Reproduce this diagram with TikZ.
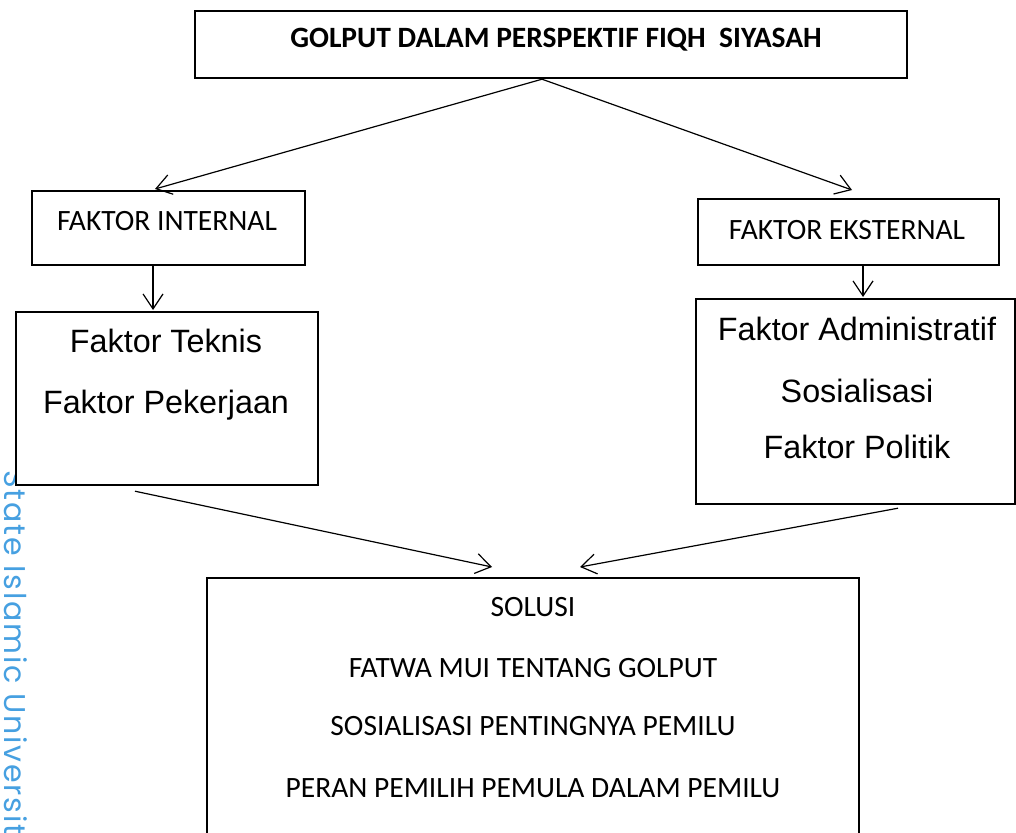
\documentclass[tikz,border=0pt]{standalone}
\usepackage{fontspec}
\setmainfont{Carlito}
\newfontfamily\arialf{Liberation Sans}
\newfontfamily\wmfont[LetterSpace=6]{Poppins}
\usetikzlibrary{arrows.meta,calc}
\definecolor{wmblue}{RGB}{70,160,225}
\begin{document}
\begin{tikzpicture}[x=1pt,y=-1pt,
 box/.style={draw,line width=2.2pt,fill=white,inner sep=0pt,anchor=north west},
 conn/.style={line width=1.2pt,-{Straight Barb[length=15pt,width=20pt,line width=1.2pt]}},
 cal/.style={font=\fontsize{29.5}{33}\selectfont,anchor=base,inner sep=0pt},
 calb/.style={font=\bfseries\fontsize{29.5}{33}\selectfont,anchor=base,inner sep=0pt},
 ari/.style={font=\arialf\fontsize{32.3}{36}\selectfont,anchor=base,inner sep=0pt},
 wm/.style={font=\wmfont\fontsize{30}{34}\selectfont,text=wmblue,rotate=-90,anchor=base west,inner sep=0pt},
]
\useasboundingbox (0,0) rectangle (1016,832);
\fill[white] (0,0) rectangle (1016,832);
% watermark
\node[wm] (wmark) at (5,470) {State Islamic University};
% boxes
\node[box,minimum width=712pt,minimum height=67pt] (top) at (194,10) {};
\node[box,minimum width=273pt,minimum height=74pt] (fi) at (31,190) {};
\node[box,minimum width=301pt,minimum height=66pt] (fe) at (697,198) {};
\node[box,minimum width=302pt,minimum height=173pt] (ft) at (15,311) {};
\node[box,minimum width=319pt,minimum height=205pt] (fa) at (695,298) {};
\node[box,minimum width=652pt,minimum height=300pt] (sol) at (206,577) {};
% texts
\node[calb] (ttitle) at (556,48) {GOLPUT DALAM PERSPEKTIF FIQH\ \ SIYASAH};
\node[cal] (tfi) at (167,230) {FAKTOR INTERNAL};
\node[cal] (tfe) at (847,239) {FAKTOR EKSTERNAL};
\node[ari] (tft1) at (166,352) {Faktor Teknis};
\node[ari] (tft2) at (166,413) {Faktor Pekerjaan};
\node[ari] (tfa1) at (857,340) {Faktor Administratif};
\node[ari] (tfa2) at (857,402) {Sosialisasi};
\node[ari] (tfa3) at (857,458) {Faktor Politik};
\node[cal] (ts1) at (533,616) {SOLUSI};
\node[cal] (ts2) at (533,677) {FATWA MUI TENTANG GOLPUT};
\node[cal] (ts3) at (533,735) {SOSIALISASI PENTINGNYA PEMILU};
\node[cal] (ts4) at (533,797) {PERAN PEMILIH PEMULA DALAM PEMILU};
% connector end points
\coordinate (apex) at ($(top.south west)+(348,0)$);
\coordinate (fiin) at ($(fi.north west)+(124,-1)$);
\coordinate (fein) at ($(fe.north west)+(155,-8)$);
\coordinate (fiout) at ($(fi.south west)+(122,0)$);
\coordinate (ftin) at ($(ft.north west)+(138,-1)$);
\coordinate (feout) at ($(fe.south west)+(166,0)$);
\coordinate (fain) at ($(fa.north west)+(168,-1)$);
\coordinate (ftout) at ($(ft.south west)+(120,5)$);
\coordinate (faout) at ($(fa.south west)+(203,3)$);
\coordinate (solinl) at ($(sol.north west)+(286,-10)$);
\coordinate (solinr) at ($(sol.north west)+(374,-10)$);
% connectors
\draw[conn] (apex) -- (fiin);
\draw[conn] (apex) -- (fein);
\draw[conn] (fiout) -- (ftin);
\draw[conn] (feout) -- (fain);
\draw[conn] (ftout) -- (solinl);
\draw[conn] (faout) -- (solinr);
\end{tikzpicture}
\end{document}
